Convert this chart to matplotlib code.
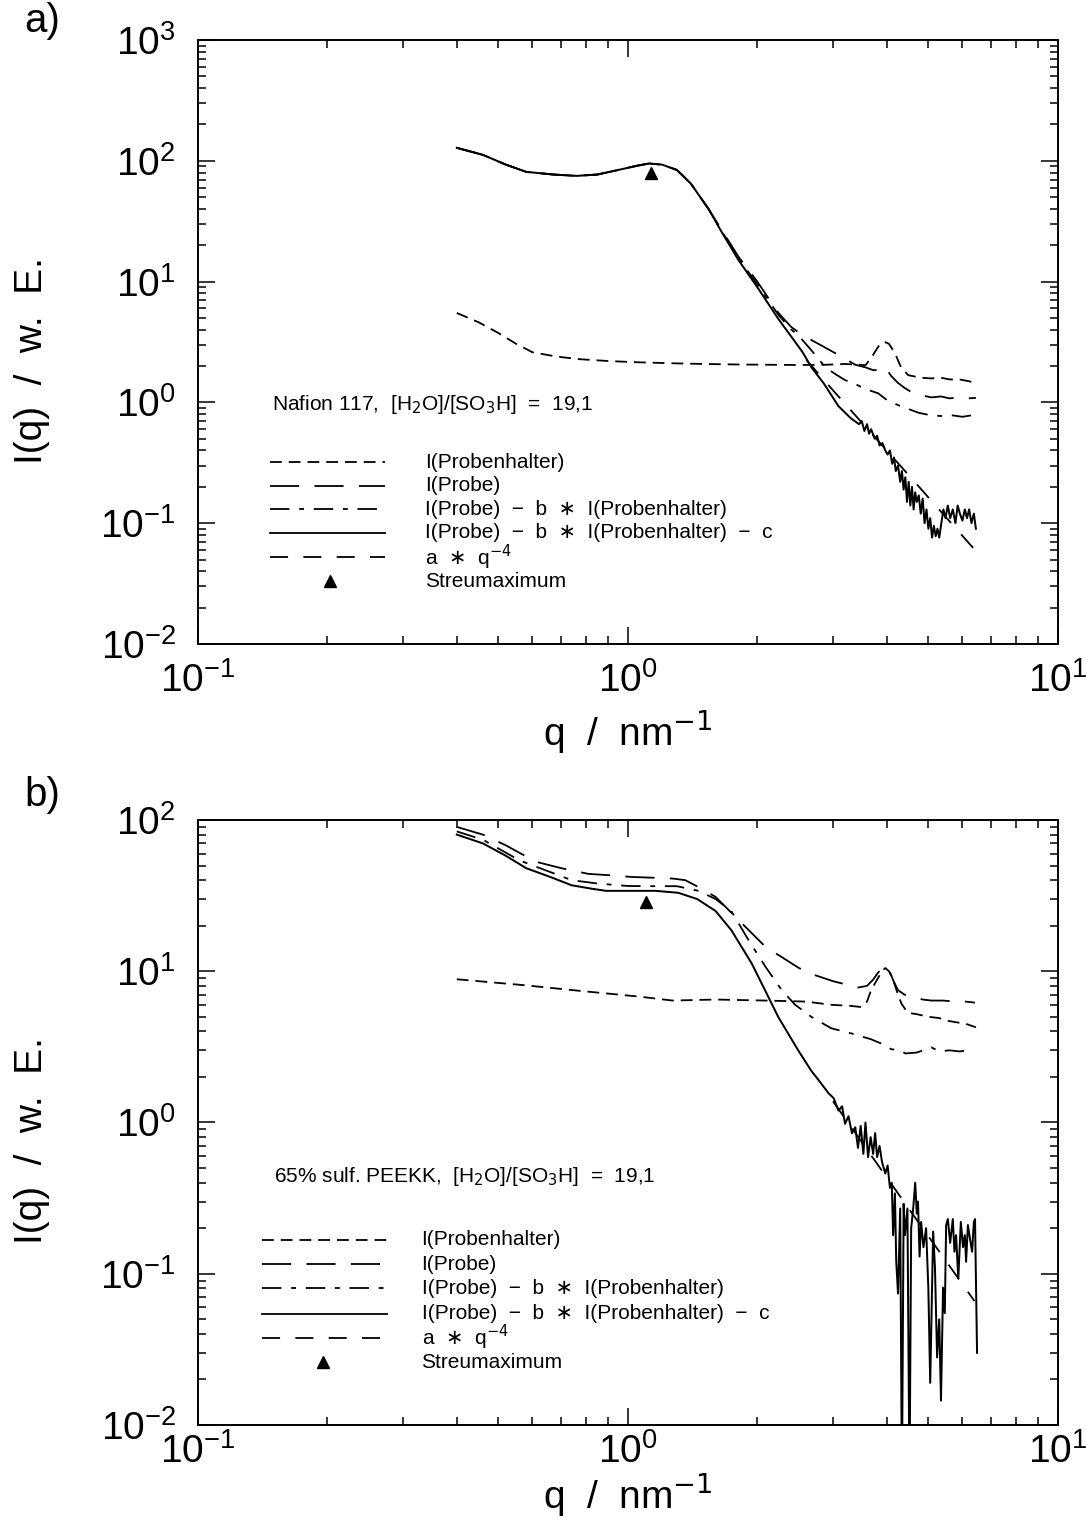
import matplotlib
matplotlib.use("Agg")
import matplotlib.pyplot as plt
from matplotlib.lines import Line2D

plt.rcParams['font.family'] = ['Liberation Sans', 'DejaVu Sans']
plt.rcParams['mathtext.fontset'] = 'dejavusans'
plt.rcParams['lines.scale_dashes'] = False

# ---------------- panel a: Nafion 117 ----------------
a_holder_q = [0.40, 0.45, 0.50, 0.55, 0.60, 0.68, 0.77, 0.90, 1.05, 1.25, 1.50, 1.80, 2.10, 2.50,
              2.90, 3.20, 3.45, 3.57, 3.70, 3.80, 3.88, 3.97, 4.05, 4.18, 4.32, 4.49, 4.80, 5.08,
              5.35, 5.60, 5.90, 6.20, 6.45]
a_holder_I = [5.5, 4.6, 3.75, 3.05, 2.6, 2.4, 2.28, 2.2, 2.15, 2.11, 2.08, 2.06, 2.05, 2.04,
              2.05, 2.08, 2.05, 2.03, 2.4, 2.8, 3.1, 3.15, 3.05, 2.56, 1.95, 1.68, 1.6, 1.58,
              1.6, 1.55, 1.55, 1.5, 1.44]

a_probe_q = [0.40, 0.46, 0.52, 0.58, 0.67, 0.76, 0.85, 0.95, 1.05, 1.12, 1.20, 1.30, 1.40, 1.54,
             1.65, 1.81, 2.00, 2.24, 2.40, 2.55, 2.73, 2.90, 3.04, 3.20, 3.38, 3.57, 3.72, 3.85,
             3.97, 4.10, 4.25, 4.40, 4.56, 4.80, 5.08, 5.35, 5.60, 5.90, 6.20, 6.45]
a_probe_I = [128, 112, 93, 81, 77, 75, 77, 84, 91, 95, 93, 84, 65, 40,
             27, 16, 10, 5.5, 4.2, 3.6, 3.15, 2.8, 2.55, 2.3, 2.05, 1.95, 1.85, 1.85,
             1.95, 1.65, 1.45, 1.32, 1.22, 1.15, 1.10, 1.12, 1.08, 1.10, 1.08, 1.09]

a_sub_q = [0.40, 0.46, 0.52, 0.58, 0.67, 0.76, 0.85, 0.95, 1.05, 1.12, 1.20, 1.30, 1.40, 1.54,
           1.65, 1.81, 2.00, 2.24, 2.40, 2.49, 2.67, 2.88, 3.05, 3.20, 3.38, 3.55, 3.82, 4.00,
           4.25, 4.50, 4.75, 5.08, 5.40, 5.70, 6.00, 6.28]
a_sub_I = [128, 112, 93, 81, 77, 75, 77, 84, 91, 95, 93, 84, 65, 40,
           26.5, 15.5, 9.5, 5.3, 4.0, 3.6, 2.71, 1.95, 1.7, 1.53, 1.42, 1.3, 1.19, 1.05,
           0.95, 0.88, 0.82, 0.78, 0.77, 0.78, 0.76, 0.78]

a_corr_q = [0.40, 0.46, 0.52, 0.58, 0.67, 0.76, 0.85, 0.95, 1.05, 1.12, 1.20, 1.30, 1.40, 1.54,
            1.65, 1.81, 2.00, 2.24, 2.40, 2.55, 2.67, 2.85, 3.09, 3.30, 3.45, 3.50, 3.55, 3.60,
            3.64, 3.68, 3.75, 3.80, 3.85, 3.91, 3.97, 4.02, 4.07, 4.12, 4.16, 4.20, 4.25, 4.30,
            4.34, 4.38, 4.42, 4.46, 4.50, 4.54, 4.58, 4.62, 4.66, 4.70, 4.75, 4.80, 4.85, 4.90,
            4.95, 5.00, 5.05, 5.10, 5.15, 5.20, 5.25, 5.30, 5.36, 5.42, 5.48, 5.55, 5.62, 5.70,
            5.78, 5.85, 5.92, 6.00, 6.08, 6.15, 6.22, 6.30, 6.38, 6.45]
a_corr_I = [128, 112, 93, 81, 77, 75, 77, 84, 91, 95, 93, 84, 65, 40,
            26, 15, 9.0, 4.9, 3.5, 2.6, 1.96, 1.45, 0.93, 0.74, 0.66, 0.70, 0.58, 0.66,
            0.55, 0.60, 0.50, 0.53, 0.44, 0.46, 0.40, 0.37, 0.40, 0.31, 0.35, 0.27, 0.30, 0.22,
            0.27, 0.19, 0.24, 0.15, 0.22, 0.14, 0.20, 0.13, 0.18, 0.15, 0.17, 0.12, 0.16, 0.10,
            0.13, 0.09, 0.11, 0.076, 0.095, 0.078, 0.09, 0.076, 0.10, 0.13, 0.11, 0.14, 0.11, 0.13,
            0.10, 0.14, 0.12, 0.105, 0.13, 0.11, 0.13, 0.10, 0.12, 0.09]

a_porod_q = [2.6, 3.0, 4.5, 6.5]
a_porod_I = [2.25, 1.26, 0.25, 0.057]

a_max_q = [1.13]
a_max_I = [79]

# ---------------- panel b: 65% sulf. PEEKK ----------------
b_holder_q = [0.40, 0.57, 0.78, 1.06, 1.27, 1.60, 2.09, 2.60, 2.97, 3.30, 3.49, 3.60, 3.68, 3.80,
              3.90, 3.97, 4.05, 4.15, 4.25, 4.33, 4.42, 4.50, 4.70, 5.00, 5.30, 5.55, 5.80, 6.10,
              6.45]
b_holder_I = [8.85, 8.1, 7.4, 6.8, 6.4, 6.5, 6.4, 6.3, 6.0, 5.9, 5.8, 6.3, 7.5, 8.8,
              10.0, 10.5, 10.0, 8.6, 7.0, 6.1, 5.6, 5.3, 5.2, 5.0, 4.9, 4.7, 4.6, 4.5,
              4.26]

b_probe_q = [0.40, 0.46, 0.52, 0.61, 0.70, 0.81, 0.92, 1.02, 1.15, 1.27, 1.36, 1.46, 1.60, 1.75,
             1.91, 2.09, 2.28, 2.50, 2.73, 3.00, 3.20, 3.43, 3.60, 3.72, 3.82, 3.92, 3.97, 4.05,
             4.15, 4.25, 4.40, 4.60, 4.85, 5.08, 5.40, 5.80, 6.10, 6.42]
b_probe_I = [90, 80, 68, 53, 48, 44, 43, 42, 41.5, 41, 40, 36, 31, 24,
             18.7, 14.5, 12.4, 10.5, 9.4, 8.6, 8.2, 7.8, 8.0, 8.8, 9.8, 10.6, 10.8, 10.2,
             8.6, 7.5, 7.0, 6.8, 6.5, 6.4, 6.4, 6.3, 6.3, 6.2]

b_sub_q = [0.40, 0.46, 0.56, 0.65, 0.74, 0.85, 1.00, 1.15, 1.30, 1.46, 1.60, 1.74, 1.91, 2.09,
           2.28, 2.45, 2.67, 2.97, 3.31, 3.68, 3.88, 4.10, 4.30, 4.42, 4.70, 5.08, 5.30, 5.60,
           5.90, 6.18]
b_sub_I = [84, 74, 54, 46, 40, 38, 36.6, 36.5, 36.5, 34, 30, 25, 16, 10.7,
           7.5, 6.0, 5.0, 4.2, 3.88, 3.55, 3.33, 3.05, 3.0, 2.86, 2.9, 3.14, 2.95, 3.0,
           2.95, 3.0]

b_corr_q = [0.40, 0.46, 0.52, 0.58, 0.66, 0.74, 0.83, 0.89, 1.00, 1.16, 1.31, 1.45, 1.60, 1.74,
            1.94, 2.12, 2.24, 2.49, 2.67, 2.80, 2.93, 3.01, 3.09, 3.15, 3.20, 3.26, 3.32, 3.38,
            3.43, 3.48, 3.53, 3.57, 3.62, 3.67, 3.72, 3.76, 3.80, 3.85, 3.90, 3.97, 4.02, 4.07,
            4.11, 4.14, 4.18, 4.21, 4.25, 4.30, 4.34, 4.38, 4.41, 4.47, 4.52, 4.56, 4.61, 4.66,
            4.70, 4.73, 4.77, 4.81, 4.87, 4.94, 5.00, 5.05, 5.13, 5.18, 5.24, 5.30, 5.35, 5.41,
            5.46, 5.50, 5.55, 5.62, 5.70, 5.75, 5.80, 5.87, 5.95, 6.02, 6.08, 6.12, 6.18, 6.25,
            6.32, 6.38, 6.42, 6.49]
b_corr_I = [80, 70, 58, 48, 42, 37, 35, 34, 34, 34, 33, 30, 25, 18.7,
            11.3, 6.8, 4.96, 3.0, 2.2, 1.85, 1.56, 1.45, 1.2, 1.28, 0.98, 1.1, 0.85, 0.93,
            0.68, 0.95, 0.62, 1.0, 0.59, 0.80, 0.62, 0.85, 0.59, 0.70, 0.55, 0.46, 0.52, 0.37,
            0.40, 0.18, 0.34, 0.12, 0.074, 0.27, 0.004, 0.29, 0.18, 0.27, 0.004, 0.20, 0.27, 0.40,
            0.25, 0.30, 0.13, 0.22, 0.15, 0.20, 0.08, 0.019, 0.19, 0.11, 0.028, 0.05, 0.0145, 0.081,
            0.055, 0.21, 0.23, 0.16, 0.23, 0.14, 0.18, 0.093, 0.22, 0.15, 0.18, 0.12, 0.21, 0.17,
            0.14, 0.22, 0.23, 0.03]

b_porod_q = [3.0, 4.5, 6.4]
b_porod_I = [1.38, 0.27, 0.066]

b_max_q = [1.10]
b_max_I = [28.6]

legend_labels = ["I(Probenhalter)", "I(Probe)", "I(Probe)  \u2212  b  \u2217  I(Probenhalter)",
                 "I(Probe)  \u2212  b  \u2217  I(Probenhalter)  \u2212  c",
                 "a  $\\ast$  q$^{-4}$", "Streumaximum"]

DASH_HOLDER = (8.5, 5)
DASH_PROBE = (21, 11)
DASH_SUB = (14, 7, 3.5, 7)
DASH_POROD = (13, 11)
LW = 1.3


def style_axis(ax, ymin, ymax, xpad, xlabelpad):
    ax.set_xscale("log")
    ax.set_yscale("log")
    ax.set_xlim(0.1, 10)
    ax.set_ylim(ymin, ymax)
    for s in ax.spines.values():
        s.set_linewidth(1.4)
    ax.tick_params(which="both", direction="in", top=True, right=True, width=1.1)
    ax.tick_params(which="major", length=12, labelsize=28)
    ax.tick_params(which="minor", length=6)
    ax.tick_params(axis="y", which="major", pad=16)
    ax.tick_params(axis="x", which="major", pad=xpad)
    ax.set_xlabel("q  /  nm$^{-1}$", fontsize=28, labelpad=xlabelpad)
    ax.set_ylabel("I(q)  /  w.  E.", fontsize=28, labelpad=14)
    ax.yaxis.set_label_coords(-0.172, 0.47)


def draw_panel(ax, data, header, hx, hy, rows_y, line_x0, line_x1, text_x, tri_x):
    holder, probe, sub, corr, porod, smax = data
    ax.plot(*holder, color="k", lw=LW, dashes=DASH_HOLDER)
    ax.plot(*probe, color="k", lw=LW, dashes=DASH_PROBE)
    ax.plot(*sub, color="k", lw=LW, dashes=DASH_SUB)
    ax.plot(*porod, color="k", lw=LW, dashes=DASH_POROD)
    ax.plot(*corr, color="k", lw=LW * 1.1)
    ax.plot(*smax, "k^", ms=8, ls="none")

    ax.text(hx, hy, header, transform=ax.transAxes, fontsize=15, va="center", ha="left")
    styles = [DASH_HOLDER, DASH_PROBE, DASH_SUB, None, DASH_POROD]
    for y, st in zip(rows_y[:5], styles):
        ln = Line2D([line_x0, line_x1], [y, y], transform=ax.transAxes, color="k", lw=LW)
        if st is not None:
            ln.set_dashes(st)
        ax.add_line(ln)
    ax.plot([tri_x], [rows_y[5]], "k^", ms=8, transform=ax.transAxes, clip_on=False)
    for y, lab in zip(rows_y, legend_labels):
        ax.text(text_x, y, lab, transform=ax.transAxes, fontsize=15, va="center", ha="left")


fig = plt.figure(figsize=(10.86, 15.21), dpi=100)
ax1 = fig.add_axes([0.1823, 0.5766, 0.7917, 0.3971])
ax2 = fig.add_axes([0.1823, 0.0631, 0.7917, 0.3978])

style_axis(ax1, 1e-2, 1e3, 13, 6)
style_axis(ax2, 1e-2, 1e2, 6, 0)

draw_panel(ax1,
           [(a_holder_q, a_holder_I), (a_probe_q, a_probe_I), (a_sub_q, a_sub_I),
            (a_corr_q, a_corr_I), (a_porod_q, a_porod_I), (a_max_q, a_max_I)],
           "Nafion 117,  [H$_2$O]/[SO$_3$H]  =  19,1", 0.086, 0.396,
           [0.301, 0.262, 0.223, 0.184, 0.144, 0.104], 0.084, 0.217, 0.264, 0.153)

draw_panel(ax2,
           [(b_holder_q, b_holder_I), (b_probe_q, b_probe_I), (b_sub_q, b_sub_I),
            (b_corr_q, b_corr_I), (b_porod_q, b_porod_I), (b_max_q, b_max_I)],
           "65% sulf. PEEKK,  [H$_2$O]/[SO$_3$H]  =  19,1", 0.089, 0.410,
           [0.306, 0.266, 0.226, 0.184, 0.144, 0.104], 0.075, 0.220, 0.260, 0.145)

fig.text(0.022, 0.986, "a)", fontsize=29, va="center", ha="left")
fig.text(0.022, 0.477, "b)", fontsize=29, va="center", ha="left")

fig.savefig("out.png", dpi=100)
